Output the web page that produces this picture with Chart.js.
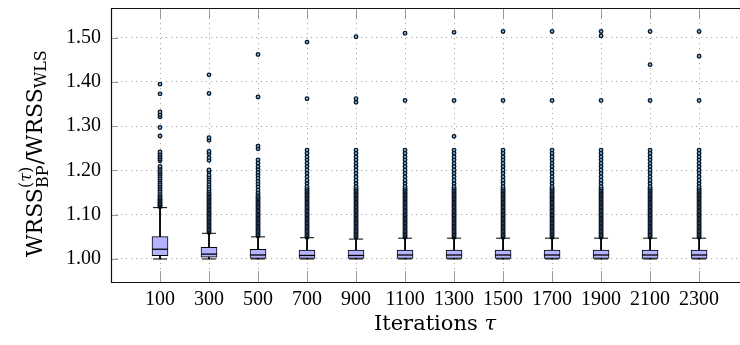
<!DOCTYPE html>
<html>
<head>
<meta charset="utf-8">
<script src="https://cdn.jsdelivr.net/npm/chart.js@4.4.0/dist/chart.umd.min.js"></script>
<style>
html, body { margin: 0; padding: 0; background: #fff; width: 740px; height: 345px; overflow: hidden; }
</style>
</head>
<body>
<canvas id="chart" width="740" height="345"></canvas>
<script>
// ================ data ================
const iterations = [100, 300, 500, 700, 900, 1100, 1300, 1500, 1700, 1900, 2100, 2300];
const yTicks = [1.0, 1.1, 1.2, 1.3, 1.4, 1.5];

const whiskerLow = [1.0, 1.0, 1.0, 1.0, 1.0, 1.0, 1.0, 1.0, 1.0, 1.0, 1.0, 1.0];
const q1 = [1.0075, 1.004, 1.0015, 1.0015, 1.0015, 1.0015, 1.0015, 1.0015, 1.0015, 1.0015, 1.0015, 1.0015];
const median = [1.022, 1.011, 1.009, 1.008, 1.008, 1.009, 1.009, 1.009, 1.009, 1.009, 1.009, 1.009];
const q3 = [1.0506, 1.0265, 1.022, 1.02, 1.02, 1.02, 1.02, 1.02, 1.02, 1.02, 1.02, 1.02];
const whiskerHigh = [1.116, 1.058, 1.05, 1.048, 1.045, 1.047, 1.047, 1.047, 1.047, 1.047, 1.047, 1.047];

// outliers
const out100 = [1.118, 1.12, 1.122, 1.124, 1.126, 1.128, 1.131, 1.133, 1.135, 1.138, 1.141, 1.144, 1.148,
	1.153, 1.158, 1.162, 1.166, 1.17, 1.175, 1.179, 1.183, 1.188, 1.192, 1.196, 1.2, 1.205, 1.209,
	1.222, 1.226, 1.23, 1.234, 1.238, 1.242, 1.278, 1.297, 1.321, 1.326, 1.332, 1.373, 1.395];
const out300 = [1.06, 1.063, 1.066, 1.069, 1.072, 1.075, 1.078, 1.081, 1.084, 1.087, 1.09, 1.093, 1.096,
	1.099, 1.102, 1.105, 1.108, 1.111, 1.114, 1.117, 1.12, 1.123, 1.126, 1.129, 1.132, 1.135, 1.138,
	1.141, 1.144, 1.147, 1.15, 1.154, 1.158, 1.164, 1.169, 1.175, 1.18, 1.185, 1.19, 1.197, 1.201,
	1.223, 1.229, 1.238, 1.243, 1.268, 1.274, 1.374, 1.416];
const out500 = [1.052, 1.055, 1.058, 1.061, 1.064, 1.067, 1.07, 1.073, 1.076, 1.079, 1.082, 1.085, 1.088,
	1.091, 1.094, 1.097, 1.1, 1.103, 1.106, 1.109, 1.112, 1.115, 1.118, 1.121, 1.124, 1.127, 1.13,
	1.133, 1.136, 1.139, 1.142, 1.146, 1.15, 1.156, 1.163, 1.17, 1.176, 1.183, 1.19, 1.196, 1.203,
	1.209, 1.217, 1.224, 1.249, 1.255, 1.366, 1.462];
// 700..2300 share the same solid column
const denseLate = [1.049, 1.052, 1.055, 1.058, 1.061, 1.064, 1.067, 1.07, 1.073, 1.076, 1.079, 1.082,
	1.085, 1.088, 1.091, 1.094, 1.097, 1.1, 1.103, 1.106, 1.109, 1.112, 1.115, 1.118, 1.121, 1.124,
	1.127, 1.13, 1.133, 1.136, 1.139, 1.142, 1.145, 1.148, 1.151, 1.154, 1.157, 1.16, 1.164];
const upperLate = [1.171, 1.178, 1.186, 1.194, 1.201, 1.209, 1.216, 1.224, 1.231, 1.239, 1.246];
const extra700 = [1.362, 1.49];
const extra900 = [1.354, 1.362, 1.502];
const extra1100 = [1.358, 1.51];
const extra1300 = [1.277, 1.358, 1.512];
const extra1500 = [1.358, 1.514];
const extra1700 = [1.358, 1.514];
const extra1900 = [1.358, 1.504, 1.514];
const extra2100 = [1.358, 1.439, 1.514];
const extra2300 = [1.358, 1.458, 1.514];

const late = denseLate.concat(upperLate);
const outliers = [out100, out300, out500,
	late.concat(extra700), late.concat(extra900), late.concat(extra1100), late.concat(extra1300),
	late.concat(extra1500), late.concat(extra1700), late.concat(extra1900), late.concat(extra2100),
	late.concat(extra2300)];

const BOX_FILL = "rgb(179, 179, 255)";
const TICK_FONT = "Liberation Serif";
const LABEL_FONT = "DejaVu Serif";

// ================ datasets ================
const pairs = (lo, hi) => iterations.map((x, i) => ({ x, y: [lo[i], hi[i]] }));
const points = (arr) => iterations.map((x, i) => ({ x, y: arr[i] }));
const outlierPoints = [];
iterations.forEach((x, i) => outliers[i].forEach((v) => outlierPoints.push({ x, y: v })));

const datasets = [
	{ type: "scatter", label: "median", data: points(median), pointStyle: "line", pointRadius: 8,
		borderColor: "#000", borderWidth: 1.3 },
	{ type: "bar", label: "box", data: pairs(q1, q3), grouped: false, barThickness: 16,
		backgroundColor: BOX_FILL, borderColor: "#000", borderWidth: 1, borderSkipped: false },
	{ type: "scatter", label: "caps", data: points(whiskerLow).concat(points(whiskerHigh)),
		pointStyle: "line", pointRadius: 7, borderColor: "#000", borderWidth: 1 },
	{ type: "bar", label: "lower whisker", data: pairs(whiskerLow, q1), grouped: false,
		barThickness: 1.2, backgroundColor: "#000" },
	{ type: "bar", label: "upper whisker", data: pairs(q3, whiskerHigh), grouped: false,
		barThickness: 1.2, backgroundColor: "#000" },
	{ type: "scatter", label: "outliers", data: outlierPoints, pointStyle: "circle", pointRadius: 1.8,
		backgroundColor: "rgb(120, 178, 228)", borderColor: "#0b1826", borderWidth: 1.3 },
];

// ================ frame, inner ticks, axis labels ================
const framePlugin = {
	id: "frame",
	afterDraw(chart) {
		const { ctx, chartArea: a, scales } = chart;
		ctx.save();
		// inner tick marks
		ctx.strokeStyle = "#9a9a9a";
		ctx.lineWidth = 1;
		ctx.beginPath();
		for (const v of iterations) {
			const px = Math.round(scales.x.getPixelForValue(v)) + 0.5;
			ctx.moveTo(px, a.bottom); ctx.lineTo(px, a.bottom - 11);
			ctx.moveTo(px, a.top); ctx.lineTo(px, a.top + 11);
		}
		for (const v of yTicks) {
			const py = Math.round(scales.y.getPixelForValue(v)) + 0.5;
			ctx.moveTo(a.left, py); ctx.lineTo(a.left + 7, py);
		}
		ctx.stroke();
		// frame (right side falls outside the page, as in the figure)
		ctx.strokeStyle = "#111";
		ctx.lineWidth = 1.2;
		ctx.beginPath();
		const l = Math.round(a.left) + 0.5, t = Math.round(a.top) + 0.5, b = Math.round(a.bottom) + 0.5;
		ctx.moveTo(a.right + 2, t); ctx.lineTo(l, t); ctx.lineTo(l, b); ctx.lineTo(a.right + 2, b);
		ctx.stroke();

		// x title
		ctx.fillStyle = "#000";
		ctx.textBaseline = "alphabetic";
		ctx.textAlign = "left";
		ctx.font = `21px "${LABEL_FONT}"`;
		const w1 = ctx.measureText("Iterations ").width;
		ctx.font = `italic 21px "${LABEL_FONT}"`;
		const w2 = ctx.measureText("τ").width;
		let x0 = 435 - (w1 + w2) / 2;
		ctx.font = `21px "${LABEL_FONT}"`;
		ctx.fillText("Iterations ", x0, 330);
		ctx.font = `italic 21px "${LABEL_FONT}"`;
		ctx.fillText("τ", x0 + w1, 330);

		// y title, rotated, with sub/superscripts
		ctx.rotate(-Math.PI / 2);
		const big = `22px "${LABEL_FONT}"`;
		const small = `16px "${LABEL_FONT}"`;
		const smallIt = `italic 16px "${LABEL_FONT}"`;
		let u = 257;
		const put = (text, font, base, off = 0) => {
			ctx.font = font;
			ctx.fillText(text, -(u - off), base);
			return ctx.measureText(text).width;
		};
		u -= put("WRSS", big, 42);
		const wSub = put("BP", small, 48);
		let s = 0;
		s += put("(", small, 31, s);
		s += put("τ", smallIt, 31, s);
		s += put(")", small, 31, s);
		u -= Math.max(wSub, s) + 1;
		u -= put("/", big, 42);
		u -= put("WRSS", big, 42);
		put("WLS", small, 46);
		ctx.restore();
	},
};

// ================ chart ================
const chart = new Chart(document.getElementById("chart"), {
	type: "bar",
	data: { datasets },
	options: {
		responsive: false,
		animation: false,
		events: [],
		devicePixelRatio: 1,
		layout: { autoPadding: false, padding: { left: 0, top: 8, right: 0, bottom: 0 } },
		plugins: { legend: { display: false }, tooltip: { enabled: false } },
		scales: {
			x: {
				type: "linear",
				min: -100,
				max: 2467,
				offset: false,
				afterBuildTicks: (s) => { s.ticks = iterations.map((v) => ({ value: v })); },
				afterFit: (s) => { s.height = 63; s.paddingLeft = 0; s.paddingRight = 0; },
				ticks: {
					font: { family: TICK_FONT, size: 20 },
					color: "#000",
					padding: 6,
					maxRotation: 0,
					autoSkip: false,
					callback: (v) => String(v),
				},
				grid: { color: "#a8a8a8", lineWidth: 1, drawTicks: false, offset: false },
				border: { display: false, dash: [1.2, 3.8] },
			},
			y: {
				type: "linear",
				min: 0.948,
				max: 1.567,
				afterBuildTicks: (s) => { s.ticks = yTicks.map((v) => ({ value: v })); },
				afterFit: (s) => { s.width = 111; s.paddingTop = 0; s.paddingBottom = 0; },
				ticks: {
					font: { family: TICK_FONT, size: 20 },
					color: "#000",
					padding: 10,
					callback: (v) => v.toFixed(2),
				},
				grid: { color: "#a8a8a8", lineWidth: 1, drawTicks: false },
				border: { display: false, dash: [1.2, 3.8] },
			},
		},
	},
	plugins: [framePlugin],
});
</script>
</body>
</html>
